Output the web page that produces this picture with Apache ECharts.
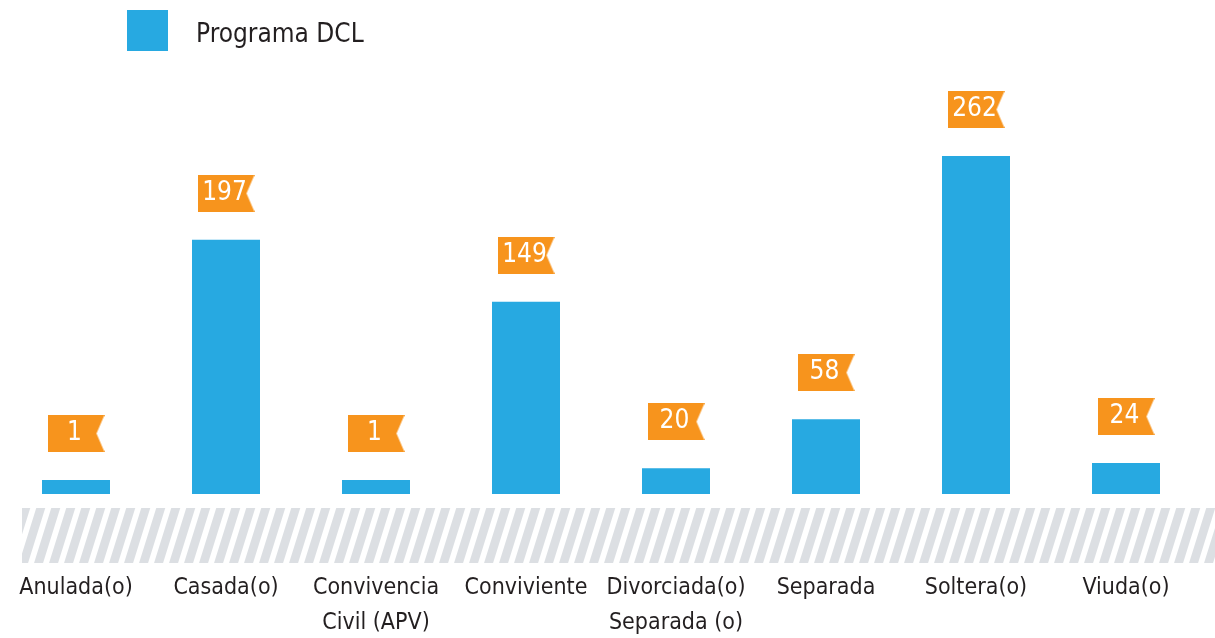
<!DOCTYPE html>
<html>
<head>
<meta charset="utf-8">
<script src="https://cdn.jsdelivr.net/npm/echarts@6/dist/echarts.min.js"></script>
<style>
html,body{margin:0;padding:0;background:#fff;}
#chart{width:1215px;height:638px;}
</style>
</head>
<body>
<div id="chart"></div>
<script>
const categories = ['Anulada(o)', 'Casada(o)', 'Convivencia\nCivil (APV)', 'Conviviente', 'Divorciada(o)\nSeparada (o)', 'Separada', 'Soltera(o)', 'Viuda(o)'];
const seriesName = 'Programa DCL';
const values = [1, 197, 1, 149, 20, 58, 262, 24];

const FONT = "'DejaVu Sans Condensed', 'Liberation Sans Narrow', sans-serif";
const BLUE = '#27a9e1';
const ORANGE = '#f7941d';

// flag-shaped background for value labels
function makeFlag() {
  const c = document.createElement('canvas');
  c.width = 57; c.height = 37;
  const g = c.getContext('2d');
  g.fillStyle = ORANGE;
  g.beginPath();
  g.moveTo(0, 0);
  g.lineTo(57, 0);
  g.lineTo(49, 18.5);
  g.lineTo(57, 37);
  g.lineTo(0, 37);
  g.closePath();
  g.fill();
  return c;
}

// diagonal hatch pattern for the base band
function makeHatch() {
  const c = document.createElement('canvas');
  c.width = 15; c.height = 48;
  const g = c.getContext('2d');
  g.fillStyle = '#ffffff';
  g.fillRect(0, 0, 15, 48);
  g.fillStyle = '#dcdfe3';
  for (let a = -30; a <= 30; a += 15) {
    g.beginPath();
    g.moveTo(a, 48);
    g.lineTo(a + 9, 48);
    g.lineTo(a + 24, 0);
    g.lineTo(a + 15, 0);
    g.closePath();
    g.fill();
  }
  return c;
}

const chart = echarts.init(document.getElementById('chart'));
chart.setOption({
  animation: false,
  backgroundColor: '#ffffff',
  legend: {
    left: 122,
    top: 5,
    itemWidth: 41,
    itemHeight: 41,
    icon: 'rect',
    data: [seriesName],
    formatter: function (name) { return '{t|' + name + '}'; },
    textStyle: {
      fontFamily: FONT,
      fontSize: 26,
      color: '#231f20',
      padding: [0, 0, 0, 23],
      rich: {
        t: {
          fontFamily: FONT,
          fontSize: 26,
          color: '#231f20',
          padding: [10, 0, 0, 0]
        }
      }
    }
  },
  grid: { left: 1, right: 14, top: 107, bottom: 144, containLabel: false, outerBoundsMode: 'none' },
  graphic: [{
    type: 'rect',
    z: -1,
    shape: { x: 22, y: 508, width: 1193, height: 55 },
    style: { fill: { image: makeHatch(), repeat: 'repeat' } }
  }],
  xAxis: {
    type: 'category',
    data: categories,
    axisLine: { show: false },
    axisTick: { show: false },
    axisLabel: {
      interval: 0,
      margin: 77,
      fontFamily: FONT,
      fontSize: 23,
      lineHeight: 35,
      color: '#231f20'
    }
  },
  yAxis: {
    type: 'value',
    min: 0,
    max: 300,
    show: false,
    splitLine: { show: false }
  },
  series: [{
    name: seriesName,
    type: 'bar',
    data: values,
    barWidth: 68,
    barMinHeight: 14,
    itemStyle: { color: BLUE },
    label: {
      show: true,
      position: 'top',
      distance: 28,
      width: 54,
      height: 37,
      padding: [0, 3, 0, 0],
      align: 'center',
      lineHeight: 37,
      fontFamily: FONT,
      fontSize: 26,
      color: '#ffffff',
      backgroundColor: { image: makeFlag() }
    }
  }]
});
</script>
</body>
</html>
